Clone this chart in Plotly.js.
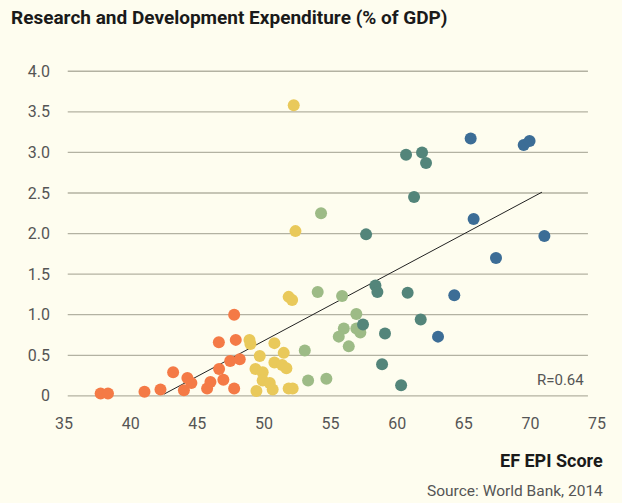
<!DOCTYPE html>
<html>
<head>
<meta charset="utf-8">
<script src="https://cdn.plot.ly/plotly-3.0.1.min.js"></script>
<style>
html,body{margin:0;padding:0;background:#fefdef;}
#chart{width:622px;height:503px;}
</style>
</head>
<body>
<div id="chart"></div>
<script>
// EF EPI score (x) vs R&D expenditure % of GDP (y), grouped by proficiency band
const orangeX = [37.75, 38.3, 41.04, 42.24, 43.19, 44.26, 44.56, 44.0, 45.74, 45.99, 46.96, 46.64, 46.62, 47.47, 48.19, 47.89, 47.77, 47.77];
const orangeY = [0.03, 0.03, 0.05, 0.08, 0.29, 0.22, 0.16, 0.07, 0.09, 0.17, 0.20, 0.33, 0.66, 0.43, 0.45, 0.69, 1.00, 0.09];

const yellowX = [52.24, 52.37, 51.86, 52.12, 48.92, 48.99, 50.79, 49.69, 51.49, 50.79, 51.37, 51.69, 49.37, 49.91, 49.91, 50.44, 50.66, 49.44, 51.86, 52.16];
const yellowY = [3.58, 2.03, 1.22, 1.18, 0.69, 0.64, 0.65, 0.49, 0.53, 0.41, 0.38, 0.34, 0.33, 0.29, 0.19, 0.16, 0.08, 0.06, 0.09, 0.09];

const greenX = [54.29, 54.04, 55.87, 56.94, 56.0, 55.62, 56.94, 57.24, 56.37, 53.07, 53.32, 54.69];
const greenY = [2.25, 1.28, 1.23, 1.01, 0.83, 0.73, 0.83, 0.78, 0.61, 0.56, 0.19, 0.21];

const tealX = [60.67, 61.87, 62.17, 61.27, 57.67, 58.37, 58.52, 60.79, 61.77, 57.44, 59.09, 58.87, 60.3];
const tealY = [2.97, 3.00, 2.87, 2.45, 1.99, 1.36, 1.28, 1.27, 0.94, 0.88, 0.77, 0.39, 0.13];

const blueX = [65.52, 69.5, 69.94, 65.74, 71.05, 67.42, 64.29, 63.07];
const blueY = [3.17, 3.09, 3.14, 2.18, 1.97, 1.70, 1.24, 0.73];

const trendX = [42.49, 70.87];
const trendY = [0.02, 2.51];

const xTicks = [35, 40, 45, 50, 55, 60, 65, 70, 75];
const yTicks = [0, 0.5, 1.0, 1.5, 2.0, 2.5, 3.0, 3.5, 4.0];
const yTickLabels = ['0', '0.5', '1.0', '1.5', '2.0', '2.5', '3.0', '3.5', '4.0'];

const FONT = 'Roboto, "DejaVu Sans", sans-serif';

function group(x, y, color) {
  return {x: x, y: y, type: 'scatter', mode: 'markers', cliponaxis: false,
    marker: {size: 12, color: color, line: {width: 0}}, hoverinfo: 'x+y'};
}

const data = [
  {x: trendX, y: trendY, type: 'scatter', mode: 'lines', line: {color: '#222', width: 1}, hoverinfo: 'skip'},
  group(orangeX, orangeY, '#f47a46'),
  group(yellowX, yellowY, '#e9c95a'),
  group(greenX, greenY, '#9dbb86'),
  group(tealX, tealY, '#53857a'),
  group(blueX, blueY, '#3c6d96')
];

const gridShapes = yTicks.map(v => ({
  type: 'line', xref: 'paper', yref: 'y', x0: 0.007, x1: 0.983, y0: v, y1: v,
  line: {color: '#b3b2a2', width: 1.3}, layer: 'below'
}));

// plot area in pixels: x 63.5..596.8, y 55.3..403.6
const PL = 63.5, PW = 533.3, PB = 403.6, PH = 348.3;
const px = v => (v - PL) / PW;
const py = v => (PB - v) / PH;

const layout = {
  width: 622, height: 503,
  paper_bgcolor: '#fefdef', plot_bgcolor: '#fefdef',
  margin: {l: 63.5, r: 25.2, t: 55.3, b: 99.4},
  showlegend: false,
  font: {family: FONT, color: '#555'},
  title: {text: 'Research and Development Expenditure (% of GDP)', font: {family: FONT, size: 19, color: '#1a1a1a', weight: 'bold'},
    xref: 'container', yref: 'container', x: 11/622, xanchor: 'left', y: 1 - 17/503, yanchor: 'middle'},
  xaxis: {range: [35, 75], tickvals: xTicks, ticktext: xTicks.map(String), showgrid: false, zeroline: false,
    showline: false, ticks: '', ticklabelstandoff: 8, tickfont: {size: 16, color: '#555', family: FONT}},
  yaxis: {range: [-0.1, 4.2], tickvals: yTicks, ticktext: yTickLabels, showgrid: false, zeroline: false,
    showline: false, ticks: '', ticklabelstandoff: 13, tickfont: {size: 16, color: '#555', family: FONT}},
  shapes: gridShapes,
  annotations: [
    {text: 'R=0.64', xref: 'paper', yref: 'paper', x: px(586), y: py(380), showarrow: false,
      xanchor: 'right', yanchor: 'middle', font: {size: 15, color: '#555', family: FONT}},
    {text: 'EF EPI Score', xref: 'paper', yref: 'paper', x: px(605), y: py(460),
      xanchor: 'right', yanchor: 'middle', showarrow: false, font: {size: 18, color: '#1a1a1a', family: FONT, weight: 'bold'}},
    {text: 'Source: World Bank, 2014', xref: 'paper', yref: 'paper', x: px(605), y: py(490),
      xanchor: 'right', yanchor: 'middle', showarrow: false, font: {size: 15.5, color: '#555', family: FONT}}
  ]
};

Plotly.newPlot('chart', data, layout, {displayModeBar: false, staticPlot: true});
</script>
</body>
</html>
